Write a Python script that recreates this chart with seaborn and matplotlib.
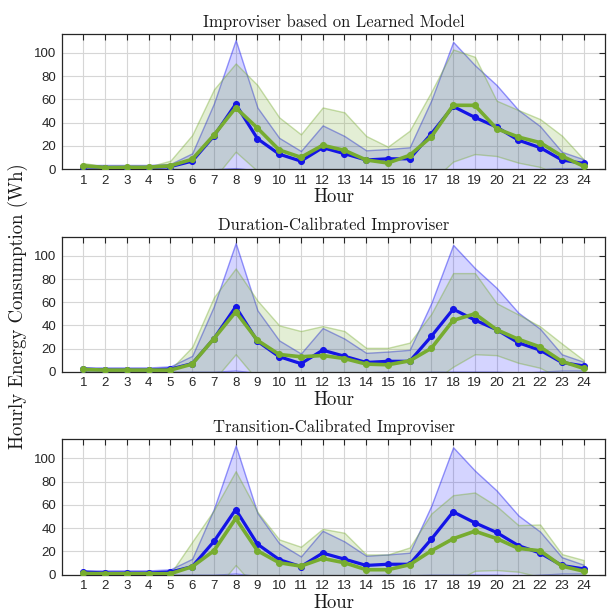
import numpy as np
import pandas as pd
import matplotlib
matplotlib.use("Agg")
import matplotlib.pyplot as plt
import seaborn as sns

hours = list(range(1, 25))

# Reference (blue) — identical in all three panels
blue_mean = [2.3, 1.5, 1.5, 1.5, 2.3, 7.0, 28.6, 56.0, 26.3, 13.0, 7.0, 18.6,
             13.4, 8.0, 9.0, 9.0, 30.6, 54.0, 44.6, 36.3, 25.0, 18.6, 8.0, 5.0]
blue_upper = [3.7, 3.7, 3.7, 3.7, 4.6, 13.7, 56.6, 111.0, 53.0, 27.0, 15.7, 37.7,
              28.6, 16.3, 17.4, 18.9, 59.4, 109.4, 89.4, 72.3, 50.9, 37.0, 15.0, 8.6]
blue_lower = [0.5, -0.5, -0.5, -0.5, 0.0, 0.0, 0.0, 1.0, -1.0, -1.0, -1.0, -1.0,
              -1.0, -0.5, 0.0, -0.5, 0.0, 0.0, 0.0, 0.0, -1.0, 0.0, 1.0, 1.0]

# Panel titles
titles = ["Improviser based on Learned Model",
          "Duration-Calibrated Improviser",
          "Transition-Calibrated Improviser"]

# Simulated (green) series, one per panel
green_mean_1 = [3.0, 1.5, 1.7, 1.7, 3.0, 8.6, 29.4, 52.9, 35.4, 16.6, 10.3, 20.6,
                16.3, 8.0, 5.4, 12.0, 28.0, 55.0, 54.9, 34.9, 27.7, 22.9, 11.4, 2.6]
green_upper_1 = [5.4, 2.3, 2.3, 2.3, 7.4, 29.4, 68.6, 90.9, 72.3, 44.6, 30.0, 53.1,
                 48.9, 28.6, 19.4, 33.1, 66.6, 102.9, 96.6, 58.9, 50.9, 43.1, 28.9, 8.6]
green_lower_1 = [0.6, 0.7, 1.1, 1.1, -1.4, -12.2, -8.0, 15.1, -1.5, -11.4, -9.4, -11.9,
                 -16.3, -12.6, -8.6, -9.1, -10.6, 6.6, 13.1, 11.4, 5.7, 2.0, -6.1, -3.4]

green_mean_2 = [2.0, 1.4, 1.4, 1.4, 1.4, 6.6, 28.6, 51.7, 27.1, 14.9, 12.9, 14.0,
                11.4, 6.6, 6.0, 9.4, 20.3, 44.3, 50.0, 36.3, 28.0, 21.4, 8.9, 2.9]
green_upper_2 = [2.9, 2.0, 2.0, 2.0, 2.0, 21.4, 64.3, 89.1, 61.4, 40.0, 35.1, 39.4,
                 35.1, 20.6, 20.6, 25.1, 50.0, 85.1, 85.1, 59.1, 49.4, 39.1, 24.3, 10.0]
green_lower_2 = [1.1, 0.8, 0.8, 0.8, 0.8, -8.2, -7.1, 15.1, -7.2, -10.2, -9.3, -11.4,
                 -12.3, -7.4, -8.6, -6.3, -9.4, 4.3, 15.1, 14.3, 7.7, 3.4, -6.5, -4.2]

green_mean_3 = [1.1, 0.9, 0.9, 0.9, 0.9, 6.9, 20.6, 48.3, 20.6, 10.3, 7.4, 14.0,
                10.3, 4.3, 4.3, 8.6, 20.6, 30.9, 37.4, 31.1, 22.6, 20.6, 7.4, 3.1]
green_upper_3 = [1.2, 1.0, 1.0, 1.0, 1.0, 28.3, 55.4, 88.9, 54.0, 30.3, 24.0, 39.4,
                 36.0, 17.4, 17.4, 23.4, 52.6, 68.3, 70.6, 58.9, 42.6, 43.1, 17.7, 12.6]
green_lower_3 = [1.0, 0.8, 0.8, 0.8, 0.8, -14.5, -14.2, 8.3, -12.8, -9.7, -9.2, -11.4,
                 -15.4, -8.8, -8.8, -6.2, -11.4, -6.5, 3.4, 4.0, 2.6, -1.9, -2.9, -6.4]

green_means = [green_mean_1, green_mean_2, green_mean_3]
green_uppers = [green_upper_1, green_upper_2, green_upper_3]
green_lowers = [green_lower_1, green_lower_2, green_lower_3]

y_ticks = [0, 20, 40, 60, 80, 100]

BLUE = "#1414e6"
GREEN = "#77ac30"

sns.set_style("white")
plt.rcParams["font.family"] = ["Liberation Sans", "DejaVu Sans"]

fig = plt.figure(figsize=(6.07, 6.12), dpi=100)
positions = [[0.1017, 0.7234, 0.8956, 0.2216],
             [0.1017, 0.3926, 0.8956, 0.2206],
             [0.1017, 0.0609, 0.8956, 0.2217]]

serif = "cmr10"

for i in range(3):
    ax = fig.add_axes(positions[i])
    df_b = pd.DataFrame({"Hour": hours, "val": blue_mean})
    df_g = pd.DataFrame({"Hour": hours, "val": green_means[i]})

    ax.fill_between(hours, blue_lower, blue_upper, facecolor=(0, 0, 1, 0.17),
                    edgecolor=(0.1, 0.1, 0.95, 0.45), linewidth=1.0, zorder=2)
    ax.fill_between(hours, green_lowers[i], green_uppers[i],
                    facecolor=matplotlib.colors.to_rgba(GREEN, 0.2),
                    edgecolor=matplotlib.colors.to_rgba(GREEN, 0.4),
                    linewidth=1.0, zorder=2)

    sns.lineplot(data=df_b, x="Hour", y="val", ax=ax, color=BLUE, linewidth=2.3,
                 marker="o", markersize=4.3, markeredgecolor=BLUE, zorder=4)
    sns.lineplot(data=df_g, x="Hour", y="val", ax=ax, color=GREEN, linewidth=2.6,
                 marker="o", markersize=4.3, markeredgecolor=GREEN, zorder=5)

    ax.set_xlim(0, 25)
    ax.set_ylim(0, 116.5)
    ax.set_xticks(hours)
    ax.set_xticklabels([str(h) for h in hours])
    ax.set_yticks(y_ticks)
    ax.grid(True, color="#d6d6d6", linewidth=0.8, zorder=0)
    ax.set_axisbelow(True)
    ax.tick_params(direction="in", length=4.5, width=0.8, top=True, right=True,
                   labelsize=9.5, colors="#262626", labelcolor="#262626", pad=4)
    for s in ax.spines.values():
        s.set_color("#262626")
        s.set_linewidth(0.9)
    ax.set_title(titles[i], fontfamily=serif, fontsize=12, pad=5, color="#1a1a1a")
    ax.set_xlabel("Hour", fontfamily=serif, fontsize=13.5, labelpad=1, color="#1a1a1a")
    ax.set_ylabel("")

fig.text(0.03, 0.5, "Hourly Energy Consumption (Wh)", rotation=90,
         fontfamily=serif, fontsize=13.5, ha="center", va="center", color="#1a1a1a")

fig.savefig("out.png", dpi=100)
